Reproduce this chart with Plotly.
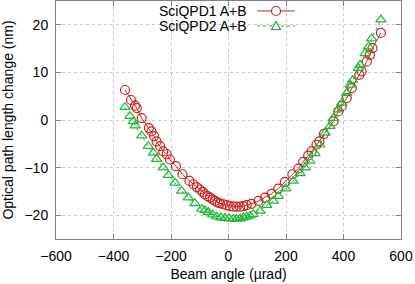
import plotly.graph_objects as go

# SciQPD1 A+B (red circles)
qpd1_x = [-360, -339, -325, -319, -302, -277, -268, -259, -250, -238, -227, -215, -204, -183,
          -160, -136, -122, -110, -99, -90, -82, -73, -64, -55, -47, -38, -30, -18, -6, 5, 17,
          28, 40, 52, 63, 80, 104, 127, 150, 173, 196, 222, 243, 260, 277, 289, 306, 316, 332,
          365, 382, 394, 411, 429, 455, 463, 481, 492, 501, 530]
qpd1_y = [6.3, 4.2, 3.0, 2.5, 0.4, -1.7, -2.4, -3.4, -4.5, -5.5, -6.6, -7.2, -8.3, -9.7,
          -11.4, -12.8, -13.5, -14.1, -14.6, -15.1, -15.6, -16.0, -16.3, -16.7, -17.0, -17.3,
          -17.5, -17.7, -17.9, -18.1, -18.2, -18.2, -18.2, -18.1, -17.9, -17.6, -17.0, -16.3,
          -15.5, -14.4, -13.0, -11.4, -10.2, -8.8, -7.5, -6.6, -5.2, -4.5, -2.9, -0.3, 1.8,
          2.9, 4.6, 6.7, 9.5, 10.2, 12.3, 13.7, 15.1, 18.3]

# SciQPD2 A+B (green triangles)
qpd2_x = [-360, -343, -331, -325, -302, -279, -261, -250, -227, -209, -186, -163, -140, -117,
          -93, -82, -70, -55, -41, -26, -12, 2, 17, 28, 40, 52, 63, 75, 86, 110, 133, 156, 173,
          199, 225, 249, 266, 283, 301, 318, 336, 353, 365, 382, 394, 411, 423, 432, 452, 458,
          475, 487, 498, 530]
qpd2_y = [2.7, 0.8, -0.3, -1.2, -3.3, -5.5, -6.9, -8.2, -10.0, -11.6, -13.2, -14.9, -16.3,
          -17.5, -18.7, -19.0, -19.4, -19.9, -20.3, -20.5, -20.6, -20.7, -20.8, -20.8, -20.7,
          -20.5, -20.3, -20.1, -19.8, -19.1, -17.9, -17.0, -16.0, -14.4, -12.8, -11.2, -10.0,
          -8.6, -7.0, -5.2, -2.7, -1.3, 0.4, 2.2, 3.6, 5.6, 7.4, 8.4, 10.9, 11.6, 14.0, 15.4,
          17.1, 21.1]

names = ["SciQPD1 A+B", "SciQPD2 A+B"]
x_ticks = [-600, -400, -200, 0, 200, 400, 600]
y_ticks = [-20, -10, 0, 10, 20]

RED = "#cc1f1f"
GREEN = "#1fb83a"
FONT = "Liberation Sans, Arial, sans-serif"

fig = go.Figure()
fig.add_trace(go.Scatter(x=qpd1_x, y=qpd1_y, mode="lines+markers", name=names[0],
                         line=dict(color=RED, width=1),
                         marker=dict(symbol="circle-open", size=9, color=RED, line=dict(width=1.2))))
fig.add_trace(go.Scatter(x=qpd2_x, y=qpd2_y, mode="lines+markers", name=names[1],
                         line=dict(color=GREEN, width=1, dash="dot"),
                         marker=dict(symbol="triangle-up-open", size=9, color=GREEN, line=dict(width=1.2))))

axis_common = dict(showline=True, linecolor="#808080", linewidth=1, mirror="ticks",
                   ticks="inside", ticklen=5, tickcolor="#808080",
                   showgrid=True, gridcolor="#c8c8c8", griddash="dot", gridwidth=1,
                   zeroline=False, tickfont=dict(family=FONT, size=14, color="#000"),
                   ticklabelstandoff=4)

fig.update_xaxes(range=[-600, 600], tickvals=x_ticks, **axis_common,
                 title=dict(text="Beam angle (µrad)", font=dict(family=FONT, size=14, color="#000"), standoff=6))
fig.update_yaxes(range=[-25, 25], tickvals=y_ticks, **axis_common,
                 title=dict(text="Optical path length change (nm)", font=dict(family=FONT, size=14, color="#000"), standoff=8))

# gnuplot-style legend: text right-aligned, sample on the right
rows = [0.958, 0.895]
txt_x = 0.5565
l0, l1, mx = 0.5826, 0.6928, 0.6377
colors = [RED, GREEN]
dashes = ["solid", "dot"]
for i in range(2):
    fig.add_annotation(x=txt_x, y=rows[i], xref="paper", yref="paper", text=names[i],
                       showarrow=False, xanchor="right", yanchor="middle", borderpad=0,
                       font=dict(family=FONT, size=14, color="#000"))
    fig.add_shape(type="line", xref="paper", yref="paper", x0=l0, x1=l1, y0=rows[i], y1=rows[i],
                  line=dict(color=colors[i], width=1, dash=dashes[i]))
fig.add_shape(type="circle", xref="paper", yref="paper", xsizemode="pixel", ysizemode="pixel",
              xanchor=mx, yanchor=rows[0], x0=-4.5, x1=4.5, y0=-4.5, y1=4.5,
              line=dict(color=RED, width=1.2), fillcolor="white")
fig.add_shape(type="path", xref="paper", yref="paper", xsizemode="pixel", ysizemode="pixel",
              xanchor=mx, yanchor=rows[1], path="M -4.5,-3.5 L 4.5,-3.5 L 0,4.5 Z",
              line=dict(color=GREEN, width=1.2), fillcolor="white")

fig.update_layout(width=415, height=284, margin=dict(l=56, r=14, t=1, b=45, autoexpand=False),
                  plot_bgcolor="white", paper_bgcolor="white", showlegend=False,
                  font=dict(family=FONT, size=14, color="#000"))

fig.write_html("out.html", config={"displayModeBar": False},
               post_script="document.body.style.margin='0';document.body.style.overflow='hidden';")
